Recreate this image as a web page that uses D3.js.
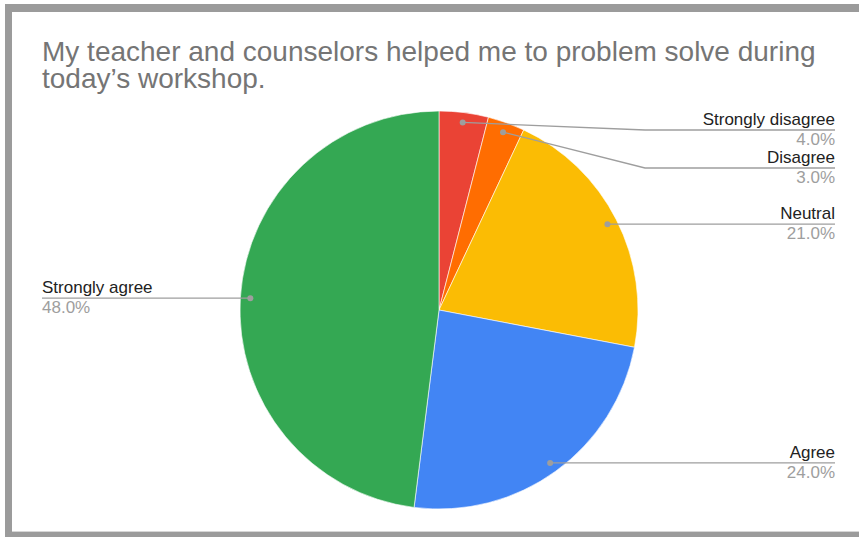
<!DOCTYPE html>
<html>
<head>
<meta charset="utf-8">
<script src="https://cdn.jsdelivr.net/npm/d3@7"></script>
<style>
  html, body { margin: 0; padding: 0; background: #fff; }
  svg { display: block; font-family: "Liberation Sans", Arial, sans-serif; }
</style>
</head>
<body>
<svg id="chart" width="859" height="537"></svg>
<script>
// Survey responses, in clockwise order starting at 12 o'clock
const categories = ["Strongly disagree", "Disagree", "Neutral", "Agree", "Strongly agree"];
const shares = [4, 3, 21, 24, 48];
const sliceColors = ["#ea4335", "#ff6d01", "#fbbc04", "#4285f4", "#34a853"];
const titleLines = [
  "My teacher and counselors helped me to problem solve during",
  "today\u2019s workshop."
];

const W = 859, H = 537;
const svg = d3.select("#chart");

// frame
svg.append("rect").attr("x", 0).attr("y", 0).attr("width", W).attr("height", H).attr("fill", "#fff");
const frame = svg.append("g").attr("fill", "#9b9b9b");
frame.append("rect").attr("x", 5).attr("y", 4).attr("width", W - 5).attr("height", 8);
frame.append("rect").attr("x", 5).attr("y", 4).attr("width", 7).attr("height", H - 4);
frame.append("rect").attr("x", 5).attr("y", 532).attr("width", W - 5).attr("height", 5);
svg.append("rect").attr("x", 12).attr("y", 531).attr("width", W - 12).attr("height", 1).attr("fill", "#d6d6d6");

// title
svg.append("text")
  .attr("x", 42).attr("y", 61)
  .attr("fill", "#757575")
  .attr("font-size", 28)
  .selectAll("tspan")
  .data(titleLines)
  .join("tspan")
  .attr("x", 42)
  .attr("dy", (d, i) => i === 0 ? 0 : 27)
  .text(d => d);

// pie
const cx = 439, cy = 310, R = 199;
const data = categories.map((c, i) => ({ name: c, value: shares[i], color: sliceColors[i] }));
const total = d3.sum(shares);
const pie = d3.pie().value(d => d.value).sort(null);
const arcs = pie(data);
const arc = d3.arc().innerRadius(0).outerRadius(R);

const g = svg.append("g").attr("transform", `translate(${cx},${cy})`);
g.selectAll("path")
  .data(arcs)
  .join("path")
  .attr("d", arc)
  .attr("fill", d => d.data.color)
  .attr("stroke", "#fff")
  .attr("stroke-width", 0.6);

// leader lines and labels
const dotR = R * 0.95;
const rightEdge = 835, leftEdge = 42, kinkX = 645;
const minGap = 38, topLimit = 130;

const anchors = arcs.map(a => {
  const mid = (a.startAngle + a.endAngle) / 2;
  return {
    a,
    x: cx + dotR * Math.sin(mid),
    y: cy - dotR * Math.cos(mid),
    right: Math.sin(mid) >= 0
  };
});

// stack right-hand labels so they don't collide
let lastY = -Infinity;
anchors.filter(d => d.right).sort((p, q) => p.y - q.y).forEach(d => {
  d.ly = Math.max(d.y, topLimit, lastY + minGap);
  lastY = d.ly;
});
anchors.filter(d => !d.right).forEach(d => { d.ly = d.y; });

const fmt = d3.format(".1f");
const lab = svg.append("g");
anchors.forEach(d => {
  const endX = d.right ? rightEdge : leftEdge;
  let pts;
  if (Math.abs(d.ly - d.y) < 0.5) pts = [[d.x, d.y], [endX, d.ly]];
  else pts = [[d.x, d.y], [kinkX, d.ly], [endX, d.ly]];
  lab.append("path")
    .attr("d", d3.line()(pts))
    .attr("fill", "none")
    .attr("stroke", "#9e9e9e")
    .attr("stroke-width", 1.3);
  lab.append("circle")
    .attr("cx", d.x).attr("cy", d.y).attr("r", 3)
    .attr("fill", "#9e9e9e");
  const anchor = d.right ? "end" : "start";
  lab.append("text")
    .attr("x", endX).attr("y", d.ly - 5)
    .attr("text-anchor", anchor)
    .attr("font-size", 17)
    .attr("fill", "#222")
    .text(d.a.data.name);
  lab.append("text")
    .attr("x", endX).attr("y", d.ly + 15)
    .attr("text-anchor", anchor)
    .attr("font-size", 17)
    .attr("fill", "#9e9e9e")
    .text(fmt(d.a.data.value / total * 100) + "%");
});
</script>
</body>
</html>
